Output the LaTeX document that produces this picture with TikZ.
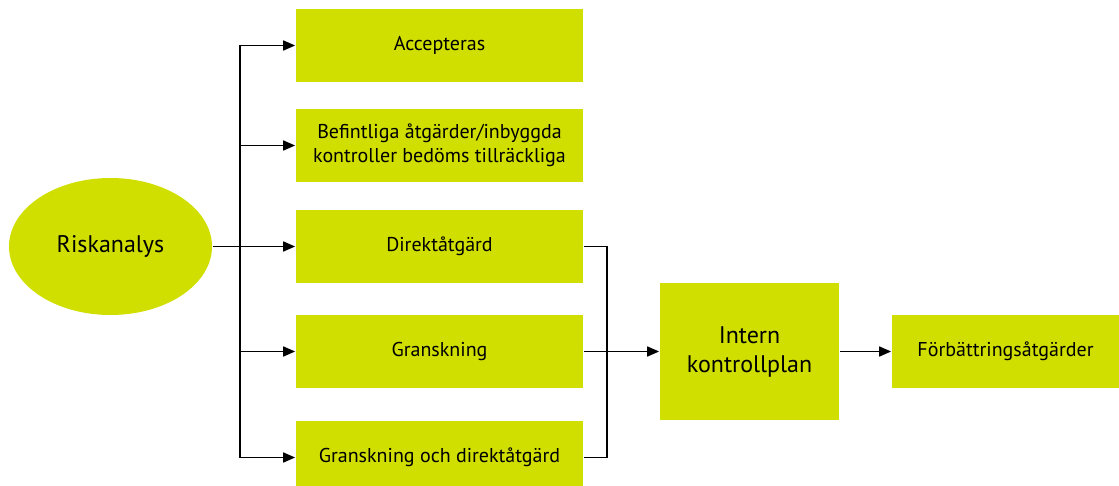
\documentclass[tikz,border=0pt]{standalone}
\usepackage{fontspec}
\setmainfont{PT Sans}
\usepackage{tikz}
\usetikzlibrary{positioning, calc, shapes, arrows.meta}

\definecolor{lime}{RGB}{208,223,0}
\tikzset{
  box/.style={rectangle, fill=lime, minimum width=287pt, minimum height=73pt, align=center, font=\fontsize{20}{24}\selectfont, inner sep=0pt},
  oval/.style={ellipse, fill=lime, minimum width=203pt, minimum height=137pt, font=\fontsize{24}{28}\selectfont, inner sep=0pt},
  line/.style={line width=1.7pt}
}

\begin{document}
\begin{tikzpicture}[x=1pt, y=-1pt, >={Triangle[length=12pt,width=10pt]}, node distance=103pt, on grid, line]
		\useasboundingbox (0,0) rectangle (1119,486);
		\node[oval]							(riska)    at (110.5,246.5)  {Riskanalys};
		\node[box]							(direkt)   [right=329pt of riska] {Direktåtgärd};
		\node[box]							(befint)   [above=101pt of direkt]  {Befintliga åtgärder/inbyggda\\kontroller bedöms tillräckliga};
		\node[box]							(accept)   [above=100pt of befint]  {Accepteras};
		\node[box]							(gransk)   [below=105pt of direkt] {Granskning};
		\node[box]							(gransdir) [below=106pt of gransk]  {Granskning och direktåtgärd};
		\node[box, minimum width=179pt, minimum height=137pt, font=\fontsize{24}{29}\selectfont]
											(intern)   [right=310pt of gransk] {Intern\\kontrollplan};
		\node[box, minimum width=227pt, minimum height=72pt]
											(forb)     [right=256pt of intern] {Förbättringsåtgärder};

		%Förgrening från riskanalysen:
		\coordinate (s1) at ([xshift=-55pt]accept.west);
		\coordinate (s2) at ([xshift=-55pt]befint.west);
		\coordinate (s4) at ([xshift=-55pt]gransk.west);
		\coordinate (s5) at ([xshift=-55pt]gransdir.west);
		\draw (s1) -- (s5);
		\path[->] (riska) edge (direkt)
		(s1) edge (accept)
		(s2) edge (befint)
		(s4) edge (gransk)
		(s5) edge (gransdir);

		%Samlas till intern kontrollplan:
		\coordinate (c3) at ([xshift=23pt]direkt.east);
		\coordinate (c5) at ([xshift=23pt]gransdir.east);
		\draw (direkt.east) -- (c3) -- (c5) -- (gransdir.east);
		\path[->] (gransk) edge (intern)
		(intern) edge (forb);
	\end{tikzpicture}
\end{document}
